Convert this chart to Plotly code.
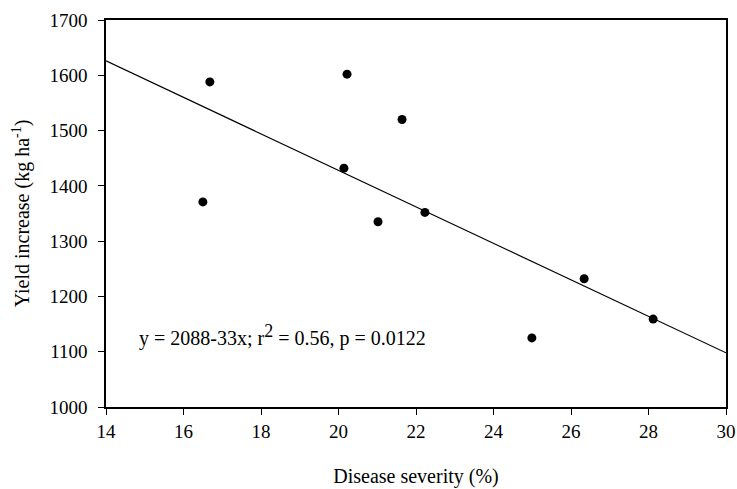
import plotly.graph_objects as go

severity = [16.68, 16.50, 20.22, 20.14, 21.02, 21.64, 22.23, 24.99, 26.34, 28.12]
yield_inc = [1588, 1371, 1602, 1432, 1335, 1520, 1352, 1125, 1232, 1159]
intercept = 2088
slope = -33
line_x = [14, 30]
line_y = [intercept + slope * v for v in line_x]
x_ticks = list(range(14, 31, 2))
y_ticks = list(range(1000, 1701, 100))

font = "Liberation Serif"
fig = go.Figure()
fig.add_trace(go.Scatter(x=line_x, y=line_y, mode="lines",
                         line=dict(color="black", width=1.2), showlegend=False))
fig.add_trace(go.Scatter(x=severity, y=yield_inc, mode="markers",
                         marker=dict(color="black", size=9), showlegend=False))
fig.add_annotation(x=14.8, y=1100, xref="x", yref="y", xanchor="left", yanchor="bottom",
                   text="y = 2088-33x; r<sup><span style='font-size:18px'>2</span></sup> = 0.56, p = 0.0122",
                   showarrow=False,
                   font=dict(family=font, size=20, color="black"))
fig.update_layout(
    width=737, height=489, plot_bgcolor="white", paper_bgcolor="white",
    margin=dict(l=106, r=11, t=20, b=82),
    font=dict(family=font, size=19, color="black"),
)
fig.update_xaxes(range=[14, 30], tickvals=x_ticks, showline=True, linecolor="black",
                 linewidth=1.5, mirror=True, ticks="outside", ticklen=6, tickcolor="black",
                 showgrid=False, zeroline=False, automargin=False,
                 title=dict(text="Disease severity (%)", standoff=28,
                            font=dict(family=font, size=20, color="black")))
fig.update_yaxes(range=[1000, 1700], tickvals=y_ticks, showline=True,
                 linecolor="black", linewidth=1.5, mirror=True, ticks="outside", ticklen=6,
                 tickcolor="black", showgrid=False, zeroline=False, automargin=False,
                 ticklabelstandoff=7,
                 title=dict(text="Yield increase (kg ha<sup>-1</sup>)", standoff=14,
                            font=dict(family=font, size=20, color="black")))
fig.write_html("out.html")
